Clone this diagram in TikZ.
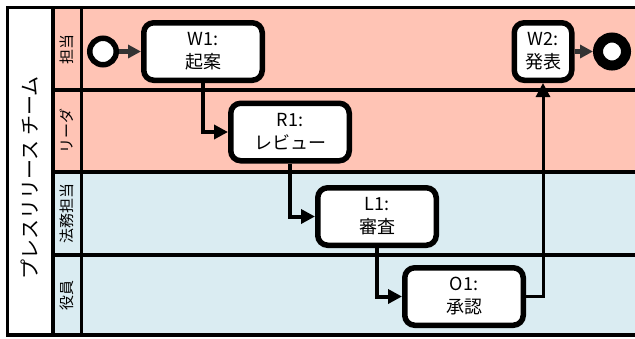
\documentclass[tikz,border=0pt]{standalone}
\usepackage{fontspec}
\setmainfont{Noto Sans CJK JP}
\usetikzlibrary{arrows.meta}
\definecolor{lanepink}{RGB}{255,196,181}
\definecolor{laneblue}{RGB}{218,236,242}
\definecolor{flowgray}{RGB}{51,51,51}
\begin{document}
\begin{tikzpicture}[x=1pt,y=-1pt,
  frameline/.style={line width=3.5pt, line cap=rect},
  task/.style={draw, line width=5.5pt, rounded corners=10pt, fill=white,
    minimum width=118.5pt, minimum height=57.5pt, inner sep=0pt, align=center,
    font=\fontsize{18}{23}\selectfont},
  smalltask/.style={task, minimum width=57.5pt},
  flow/.style={line width=4pt, -{Triangle[length=14pt,width=14pt]}},
  thinflow/.style={line width=3pt, -{Triangle[length=14pt,width=14pt]}},
  grayflow/.style={flowgray, line width=4.5pt, -{Triangle[length=13pt,width=13pt]}},
  lanelabel/.style={rotate=90, inner sep=0pt, font=\fontsize{15}{15}\selectfont},
  poollabel/.style={rotate=90, inner sep=0pt, font=\fontsize{20}{20}\selectfont}]
\useasboundingbox (0,0) rectangle (635,338);
% lanes
\fill[lanepink] (53,7.5) rectangle (636,172);
\fill[laneblue] (53,172) rectangle (636,335);
\fill[white] (7.5,7.5) rectangle (53,335);
\draw[frameline] (636,7.5) -- (7.5,7.5) -- (7.5,335) -- (636,335);
\draw[frameline] (53,7.5) -- (53,335);
\draw[frameline] (81.5,7.5) -- (81.5,335);
\draw[frameline] (53,90) -- (636,90);
\draw[frameline] (53,172) -- (636,172);
\draw[frameline] (53,255) -- (636,255);
% labels
\node[poollabel] (pool) at (30,178) {プレスリリース チーム};
\node[lanelabel] (lane1) at (67,49) {担当};
\node[lanelabel] (lane2) at (67,131) {リーダ};
\node[lanelabel] (lane3) at (67,213.5) {法務担当};
\node[lanelabel] (lane4) at (67,295.5) {役員};
% events
\node[circle, draw, line width=5.5pt, fill=white, minimum size=26.5pt, inner sep=0pt] (start) at (103,51.5) {};
\node[circle, draw, line width=10pt, fill=white, minimum size=28pt, inner sep=0pt] (end) at (612,51.5) {};
% tasks
\node[task] (W1) at (203,51.5) {W1:\\起案};
\node[task] (R1) at (290,132) {R1:\\レビュー};
\node[task] (L1) at (377,216.5) {L1:\\審査};
\node[task] (O1) at (464,296.5) {O1:\\承認};
\node[smalltask] (W2) at (543,51.5) {W2:\\発表};
% flows
\draw[grayflow] (start) -- (W1);
\draw[flow] (W1.south) |- (R1.west);
\draw[flow] (R1.south) |- (L1.west);
\draw[flow] (L1.south) |- (O1.west);
\draw[thinflow] (O1.east) -| (W2.south);
\draw[grayflow] (W2) -- (end);
\end{tikzpicture}
\end{document}
